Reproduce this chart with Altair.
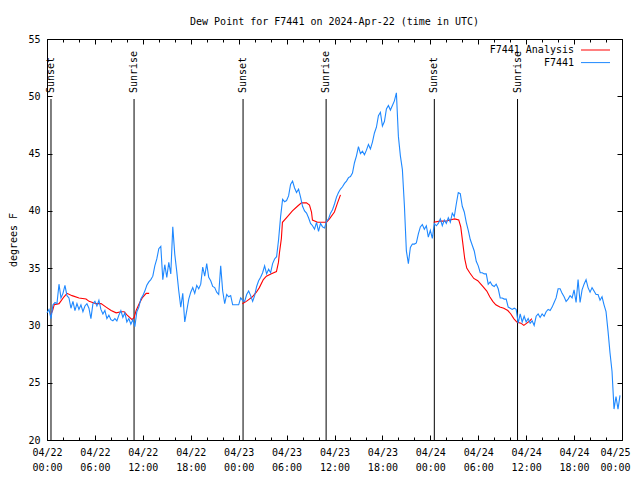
import altair as alt
import pandas as pd

TITLE = "Dew Point for F7441 on 2024-Apr-22 (time in UTC)"
MONO = "DejaVu Sans Mono"

# F7441 observations, one value every 15 minutes from 04/22 00:00 UTC
blue_step_hours = 0.25
blue_values = [
    31.1, 31.4, 30.6, 31.8,  32.0, 31.9, 33.6, 32.4,  32.8, 33.5, 32.6, 32.4,
    31.5, 32.1, 31.3, 31.9,  31.4, 31.8, 31.2, 31.7,  31.9, 31.5, 30.6, 31.9,
    32.1, 31.7, 32.2, 31.4,  31.0, 31.3, 30.6, 30.9,  30.5, 30.4, 30.6, 30.4,
    30.9, 31.3, 30.7, 31.1,  30.3, 30.6, 30.1, 30.5,  29.9, 31.2, 31.6, 32.3,
    32.6, 33.0, 33.5, 33.8,  34.0, 34.3, 35.2, 35.8,  36.7, 36.9, 34.0, 35.3,
    34.2, 35.5, 34.5, 38.6,  36.2, 34.7, 33.0, 31.6,  32.8, 30.3, 31.3, 32.3,
    32.9, 33.3, 32.8, 33.5,  33.2, 33.6, 35.1, 34.3,  35.4, 34.2, 33.9, 33.4,
    33.3, 32.9, 32.7, 35.2,  33.0, 31.9, 32.7, 32.5,  32.6, 31.8, 31.8, 31.8,
    31.8, 32.4, 32.2, 32.1,  32.7, 33.0, 32.6, 32.1,  32.6, 33.4, 33.9, 34.2,
    34.6, 35.2, 34.5, 34.9,  34.6, 35.4, 35.8, 36.0,  37.5, 39.5, 41.0, 40.8,
    40.9, 41.3, 42.3, 42.6,  42.0, 41.6, 41.9, 41.2,  40.4, 40.0, 39.8, 39.4,
    38.9, 38.7, 38.4, 39.0,  38.2, 38.9, 38.6, 38.5,  39.1, 39.3, 39.8, 40.1,
    40.6, 41.2, 41.6, 41.9,  42.1, 42.4, 42.6, 42.9,  43.0, 43.3, 44.2, 44.8,
    45.6, 45.0, 45.2, 44.9,  45.3, 45.8, 45.4, 46.0,  46.8, 47.3, 48.3, 48.6,
    47.4, 47.8, 48.9, 49.2,  48.8, 49.2, 49.6, 50.3,  46.5, 44.8, 43.6, 40.5,
    36.5, 35.4, 36.8, 37.1,  37.1, 37.2, 38.0, 38.6,  38.8, 38.4, 38.7, 37.7,
    38.3, 37.6, 38.9, 38.7,  38.9, 39.3, 38.7, 39.2,  38.9, 39.4, 39.0, 39.8,
    39.5, 40.6, 41.6, 41.5,  40.4, 39.9, 39.0, 38.3,  37.5, 37.0, 36.5, 35.6,
    35.2, 34.6, 34.6, 34.5,  34.5, 33.6, 33.8, 33.5,  33.4, 33.6, 33.2, 32.4,
    32.4, 32.3, 32.3, 31.6,  31.5, 31.4, 31.5, 31.4,  30.2, 31.0, 30.3, 30.8,
    30.3, 30.6, 30.2, 30.4,  30.0, 30.8, 31.0, 30.7,  31.0, 30.8, 31.2, 31.4,
    31.3, 31.6, 32.0, 32.4,  33.2, 33.2, 32.8, 32.5,  32.1, 32.3, 32.6, 32.4,
    33.1, 32.0, 34.0, 32.0,  33.1, 33.6, 34.0, 33.3,  32.9, 33.3, 33.0, 32.7,
    32.7, 32.2, 32.5, 31.8,  31.2, 29.5, 27.6, 26.0,  22.7, 23.8, 22.7, 23.9,
]

# F7441 Analysis (three night-time segments), hours since 04/22 00:00 UTC
red_hours_1 = [0.45, 0.7, 0.9, 1.51, 2.13, 2.51, 3.14, 4.01, 4.89, 5.27, 6.15, 6.77,
               7.40, 8.03, 8.66, 9.28, 9.66, 10.04, 10.66, 10.91, 11.16, 11.54, 11.92,
               12.42, 12.79]
red_values_1 = [30.9, 31.3, 31.8, 31.9, 32.5, 32.8, 32.6, 32.4, 32.3, 32.1, 31.9, 31.9,
                31.6, 31.3, 31.1, 31.2, 31.2, 30.9, 30.5, 30.7, 31.3, 31.9, 32.4,
                32.8, 32.8]
red_hours_2 = [24.46, 24.96, 25.34, 25.72, 26.22, 26.59, 27.09, 27.47, 28.10, 28.73,
               28.98, 29.10, 29.35, 29.48, 30.11, 30.73, 31.36, 31.86, 32.49, 32.87,
               33.12, 33.24, 33.87, 34.50, 35.00, 35.37, 35.99, 36.38, 36.75]
red_values_2 = [31.9, 32.1, 32.3, 32.5, 32.9, 33.3, 34.0, 34.3, 34.5, 34.7,
                35.5, 36.3, 37.6, 39.0, 39.5, 40.0, 40.4, 40.7, 40.7, 40.5,
                39.9, 39.2, 39.0, 39.0, 39.0, 39.3, 39.9, 40.7, 41.4]
red_hours_3 = [48.42, 49.17, 49.92, 50.43, 51.05, 51.56, 51.81, 52.06, 52.31, 52.56,
               52.93, 53.44, 53.94, 54.57, 55.07, 55.44, 55.82, 56.20, 56.70, 57.20,
               57.70, 58.08, 58.45, 58.83, 59.33, 59.71, 60.08, 60.46, 60.71]
red_values_3 = [39.0, 39.1, 39.1, 39.2, 39.3, 39.2, 38.6, 37.2, 35.8, 35.0,
                34.6, 34.1, 33.9, 33.4, 33.0, 32.5, 32.1, 31.8, 31.6, 31.5,
                31.3, 31.0, 30.6, 30.3, 30.2, 30.0, 30.2, 30.4, 30.6]

sun_hours = [0.5, 10.9, 24.55, 34.95, 48.5, 58.92]
sun_labels = ["Sunset", "Sunrise", "Sunset", "Sunrise", "Sunset", "Sunrise"]

series_names = ["F7441 Analysis", "F7441"]
series_colors = ["#ff0000", "#1e88ff"]

x_major = list(range(0, 73, 6))
x_minor = list(range(0, 73, 2))
y_major = list(range(20, 56, 5))

rows = []
for seg, (hs, vs) in enumerate([(red_hours_1, red_values_1),
                                 (red_hours_2, red_values_2),
                                 (red_hours_3, red_values_3)], start=1):
    for h, v in zip(hs, vs):
        rows.append({"h": h, "v": v, "series": series_names[0], "seg": seg})
for i, v in enumerate(blue_values):
    rows.append({"h": i * blue_step_hours, "v": v, "series": series_names[1], "seg": 0})
lines_df = pd.DataFrame(rows)
sun_df = pd.DataFrame({"h": sun_hours, "label": sun_labels})

W, H = 575, 401
xscale = alt.Scale(domain=[0, 72], nice=False, zero=False)
yscale = alt.Scale(domain=[20, 55], nice=False, zero=False)
color_scale = alt.Scale(domain=series_names, range=series_colors)

label_expr = ("['04/' + (22 + floor(datum.value / 24)), "
              "(datum.value % 24 < 10 ? '0' : '') + (datum.value % 24) + ':00']")

x_label_axis = alt.Axis(orient="bottom", values=x_major, labelExpr=label_expr,
                        ticks=False, tickSize=0, domain=False, grid=False,
                        labelFlush=False, labelOverlap=False, labelPadding=7,
                        labelOffset={"condition": {"test": "datum.value == 72", "value": -7},
                                     "value": 0},
                        labelLineHeight=15, labelFont=MONO, labelFontSize=10,
                        labelColor="black", title=None)
y_label_axis = alt.Axis(orient="left", values=y_major, ticks=False, tickSize=0,
                        domain=False, grid=False, labelPadding=7, labelFont=MONO,
                        labelFontSize=10, labelColor="black", title="degrees F",
                        titlePadding=9, titleFont=MONO, titleFontSize=10,
                        titleFontWeight="normal", titleColor="black")


def tick_axis(orient, values, size):
    return alt.Axis(orient=orient, values=values, ticks=True, tickSize=size,
                    offset=-size, labels=False, domain=False, grid=False,
                    title=None, tickColor="black", tickWidth=1)


lines = alt.Chart(lines_df).mark_line(strokeWidth=1.1).encode(
    x=alt.X("h:Q", scale=xscale, axis=x_label_axis),
    y=alt.Y("v:Q", scale=yscale, axis=y_label_axis),
    color=alt.Color("series:N", scale=color_scale, sort=series_names, legend=None),
    detail="seg:N",
)

sun_rules = alt.Chart(sun_df).mark_rule(color="black", strokeWidth=1).encode(
    x=alt.X("h:Q", scale=xscale, axis=None),
    y=alt.value(60),
    y2=alt.value(H),
)
sun_text = alt.Chart(sun_df).mark_text(angle=270, align="left", baseline="middle",
                                       font=MONO, fontSize=10, color="black").encode(
    x=alt.X("h:Q", scale=xscale, axis=None),
    y=alt.value(54),
    text="label:N",
)

# key in the top-right corner, gnuplot style: label then line sample
legend_layers = []
for i, name in enumerate(series_names):
    key_df = pd.DataFrame({"series": [name]})
    row_y = 11 + 12.6 * i
    legend_layers.append(
        alt.Chart(key_df).mark_text(align="right", baseline="middle", font=MONO,
                                    fontSize=10, color="black").encode(
            x=alt.value(527), y=alt.value(row_y), text="series:N")
    )
    legend_layers.append(
        alt.Chart(key_df).mark_rule(strokeWidth=1).encode(
            x=alt.value(534), x2=alt.value(563), y=alt.value(row_y),
            color=alt.Color("series:N", scale=color_scale, legend=None))
    )


def tick_layer(xaxis, yaxis):
    return alt.Chart(lines_df).mark_point(opacity=0, size=1, clip=True).encode(
        x=alt.X("h:Q", scale=xscale, axis=xaxis),
        y=alt.Y("v:Q", scale=yscale, axis=yaxis),
    )


ticks_a = tick_layer(tick_axis("bottom", x_major, 5), tick_axis("left", y_major, 5))
ticks_b = tick_layer(tick_axis("top", x_major, 5), tick_axis("right", y_major, 5))
ticks_c = tick_layer(tick_axis("bottom", x_minor, 3), None)
ticks_d = tick_layer(tick_axis("top", x_minor, 3), None)

chart = alt.layer(ticks_a, ticks_b, ticks_c, ticks_d, sun_rules, sun_text, lines,
                  *legend_layers).resolve_axis(
    x="independent", y="independent"
).properties(
    width=W, height=H,
    title=alt.TitleParams(text=TITLE, dy=3),
    padding={"left": 39, "top": 31, "right": 10, "bottom": 31},
    autosize=alt.AutoSizeParams(type="none"),
).configure_view(
    stroke="black", strokeWidth=1
).configure_title(
    font=MONO, fontSize=10, fontWeight="normal", color="black", anchor="middle", offset=10
)

chart.save("out.html", embed_options={"renderer": "svg", "actions": False})
